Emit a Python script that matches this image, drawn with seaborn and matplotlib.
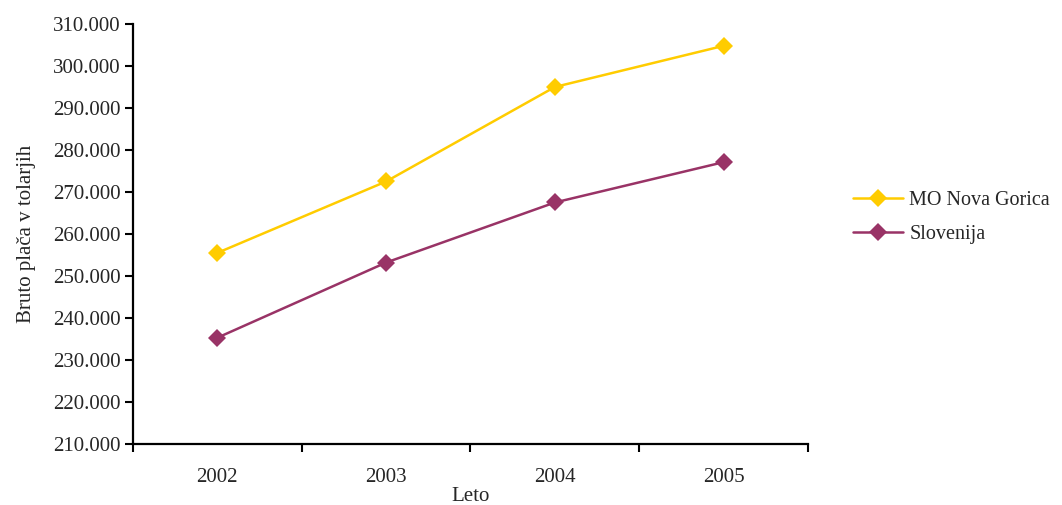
import numpy as np
import pandas as pd
import seaborn as sns
import matplotlib
matplotlib.use("Agg")
import matplotlib.pyplot as plt
from matplotlib.ticker import FuncFormatter, FixedLocator

# Average gross monthly wage (SIT)
years = [2002, 2003, 2004, 2005]
nova_gorica = [255500, 272500, 295000, 304800]
slovenija = [235300, 253200, 267500, 277100]
series_names = ["MO Nova Gorica", "Slovenija"]
colors = ["#FFCC00", "#993366"]

df = pd.DataFrame({
    "Leto": years * 2,
    "Placa": nova_gorica + slovenija,
    "Obmocje": [series_names[0]] * len(years) + [series_names[1]] * len(years),
})

sns.set_theme(style="white")
plt.rcParams["font.family"] = ["Liberation Serif", "DejaVu Serif"]
FS = 15

fig = plt.figure(figsize=(10.62, 5.05), dpi=100)
ax = fig.add_axes([0.1252, 0.1208, 0.6356, 0.8317])

sns.lineplot(data=df, x="Leto", y="Placa", hue="Obmocje",
             palette=dict(zip(series_names, colors)),
             style="Obmocje", markers={n: "D" for n in series_names},
             dashes=False, markersize=9.5, markeredgewidth=0,
             linewidth=1.8, ax=ax)

ax.set_ylim(210000, 310000)
ax.set_yticks(np.arange(210000, 310001, 10000))
ax.yaxis.set_major_formatter(FuncFormatter(lambda v, p: f"{int(v):,}".replace(",", ".")))

# category axis: ticks between years, labels centred on each year
ax.set_xlim(years[0] - 0.5, years[-1] + 0.5)
edges = [y - 0.5 for y in years] + [years[-1] + 0.5]
ax.xaxis.set_major_locator(FixedLocator(edges))
ax.xaxis.set_minor_locator(FixedLocator(years))
ax.set_xticklabels([])
ax.set_xticklabels([str(y) for y in years], minor=True)
ax.tick_params(axis="x", which="major", direction="out", length=6, width=1.5,
               color="black", bottom=True)
ax.tick_params(axis="x", which="minor", length=0, pad=17, labelsize=FS)
ax.tick_params(axis="y", direction="out", length=6, width=1.5, color="black",
               left=True, labelsize=FS, pad=3)

for side in ["top", "right"]:
    ax.spines[side].set_visible(False)
for side in ["left", "bottom"]:
    ax.spines[side].set_color("black")
    ax.spines[side].set_linewidth(1.6)

ax.set_xlabel("Leto", fontsize=FS, labelpad=0)
ax.set_ylabel("Bruto plača v tolarjih", fontsize=FS, labelpad=12)

handles, labels = ax.get_legend_handles_labels()
ax.legend(handles, labels, frameon=False, fontsize=14.5,
          loc="center left", bbox_to_anchor=(1.04, 0.54),
          handlelength=2.5, handletextpad=0.3, labelspacing=0.75)

fig.savefig("out.png", dpi=100, facecolor="white")
